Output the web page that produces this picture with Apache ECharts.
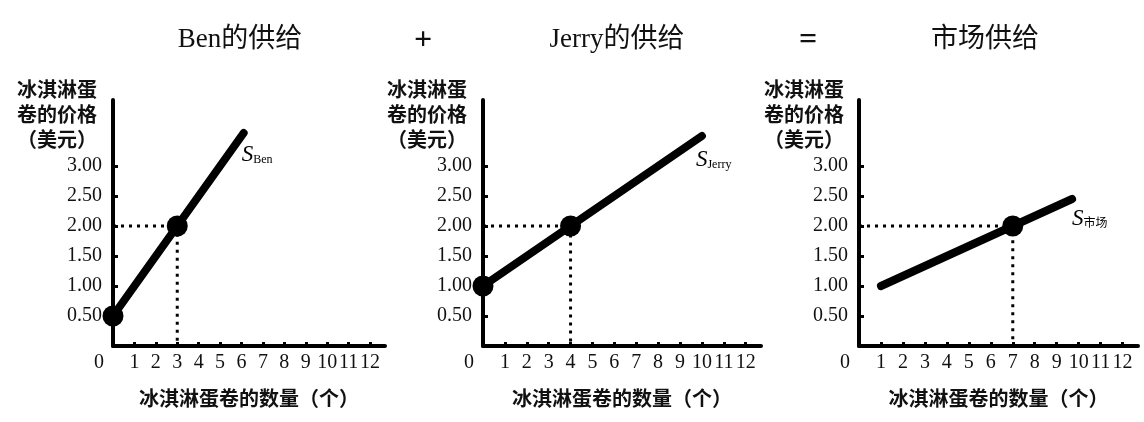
<!DOCTYPE html>
<html>
<head>
<meta charset="utf-8">
<script src="https://cdn.jsdelivr.net/npm/echarts@6/dist/echarts.min.js"></script>
<style>
html,body{margin:0;padding:0;background:#fff;}
#c{width:1144px;height:422px;}
</style>
</head>
<body>
<div id="c"></div>
<script>
// ---- data ----
const panelTitles = ['Ben的供给', 'Jerry的供给', '市场供给'];
const operators = ['+', '='];
const curveSubs = ['Ben', 'Jerry', '市场'];
const yAxisTitle = '冰淇淋蛋\n卷的价格\n（美元）';
const xAxisTitle = '冰淇淋蛋卷的数量（个）';
const xTickValues = [0, 1, 2, 3, 4, 5, 6, 7, 8, 9, 10, 11, 12];
const yTickValues = [0.5, 1, 1.5, 2, 2.5, 3];

const benLine = [[0, 0.5], [6.1, 3.55]];
const benPoints = [[0, 0.5], [3, 2]];
const benGuide = [[0, 2], [3, 2], [3, 0]];

const jerryLine = [[0, 1], [10, 3.5]];
const jerryPoints = [[0, 1], [4, 2]];
const jerryGuide = [[0, 2], [4, 2], [4, 0]];

const marketLine = [[1, 1], [9.7, 2.45]];
const marketPoints = [[7, 2]];
const marketGuide = [[0, 2], [7, 2], [7, 0]];

const lines = [benLine, jerryLine, marketLine];
const points = [benPoints, jerryPoints, marketPoints];
const guides = [benGuide, jerryGuide, marketGuide];

// ---- layout ----
const SERIF = "'Liberation Serif', 'Noto Sans CJK SC', serif";
const CJK = "'Noto Sans CJK SC', sans-serif";
const grids = [
  {left: 113, width: 272, top: 100, height: 246},
  {left: 483, width: 278, top: 100, height: 246},
  {left: 859, width: 279, top: 100, height: 246}
];
const titleX = [240, 617, 985];
const opX = [423, 808];
const yNameX = [57, 427, 804];
const labelOffsets = [[-10, 22], [-14, 24], [-8, 20]];

const chart = echarts.init(document.getElementById('c'), null, {renderer: 'canvas'});

const xAxes = grids.map((g, i) => ({
  type: 'value', gridIndex: i, min: 0, max: 12.7,
  name: xAxisTitle, nameLocation: 'middle', nameGap: 42,
  nameTextStyle: {fontFamily: CJK, fontWeight: 'bold', fontSize: 20, color: '#111', verticalAlign: 'top'},
  axisLine: {show: true, onZero: false, lineStyle: {color: '#000', width: 4}},
  axisTick: {show: true, inside: true, length: 4, lineStyle: {color: '#000', width: 3}, customValues: xTickValues.slice(1)},
  axisLabel: {
    show: true, margin: 7, fontFamily: SERIF, fontSize: 20, color: '#111',
    customValues: xTickValues,
    formatter: v => v === 0 ? '{z|0}' : String(v),
    rich: {z: {fontFamily: SERIF, fontSize: 20, color: '#111', padding: [0, 28, 0, 0]}}
  },
  splitLine: {show: false}
}));

const yAxes = grids.map((g, i) => ({
  type: 'value', gridIndex: i, min: 0, max: 4.1,
  axisLine: {show: true, onZero: false, lineStyle: {color: '#000', width: 4}},
  axisTick: {show: true, inside: true, length: 5, lineStyle: {color: '#000', width: 3}, customValues: yTickValues},
  axisLabel: {
    show: true, margin: 11, fontFamily: SERIF, fontSize: 20, color: '#111',
    customValues: yTickValues,
    formatter: v => v.toFixed(2)
  },
  splitLine: {show: false}
}));

const series = [];
for (let i = 0; i < 3; i++) {
  series.push({
    type: 'line', xAxisIndex: i, yAxisIndex: i, data: guides[i],
    symbol: 'none', silent: true, z: 2,
    lineStyle: {color: '#000', width: 3, type: [3, 5]}
  });
  series.push({
    type: 'line', xAxisIndex: i, yAxisIndex: i, data: lines[i],
    symbol: 'none', silent: true, z: 3, clip: false,
    lineStyle: {color: '#000', width: 8, cap: 'round'},
    endLabel: {
      show: true, offset: labelOffsets[i],
      formatter: '{s|S}{sub|' + curveSubs[i] + '}',
      rich: {
        s: {fontFamily: SERIF, fontStyle: 'italic', fontSize: 23, color: '#000'},
        sub: {fontFamily: SERIF, fontSize: 12, color: '#000', padding: [10, 0, 0, 0]}
      }
    }
  });
  series.push({
    type: 'scatter', xAxisIndex: i, yAxisIndex: i, data: points[i],
    symbol: 'circle', symbolSize: 21, clip: false, silent: true, z: 4,
    itemStyle: {color: '#000', opacity: 1}
  });
}

const graphics = [];
panelTitles.forEach((t, i) => {
  graphics.push({type: 'text', x: titleX[i], y: 40, style: {
    text: t, fontFamily: SERIF, fontSize: 27, fill: '#111', align: 'center', verticalAlign: 'middle'}});
});
operators.forEach((t, i) => {
  graphics.push({type: 'text', x: opX[i], y: 41, style: {
    text: t, fontFamily: SERIF, fontSize: 32, fontWeight: 'bold', fill: '#111', align: 'center', verticalAlign: 'middle'}});
});
yNameX.forEach(x => {
  graphics.push({type: 'text', x: x, y: 77, style: {
    text: yAxisTitle, fontFamily: CJK, fontSize: 20, fontWeight: 'bold', lineHeight: 25,
    fill: '#111', align: 'center', verticalAlign: 'top'}});
});

chart.setOption({
  backgroundColor: '#fff',
  animation: false,
  grid: grids,
  xAxis: xAxes,
  yAxis: yAxes,
  series: series,
  graphic: graphics
});
</script>
</body>
</html>
